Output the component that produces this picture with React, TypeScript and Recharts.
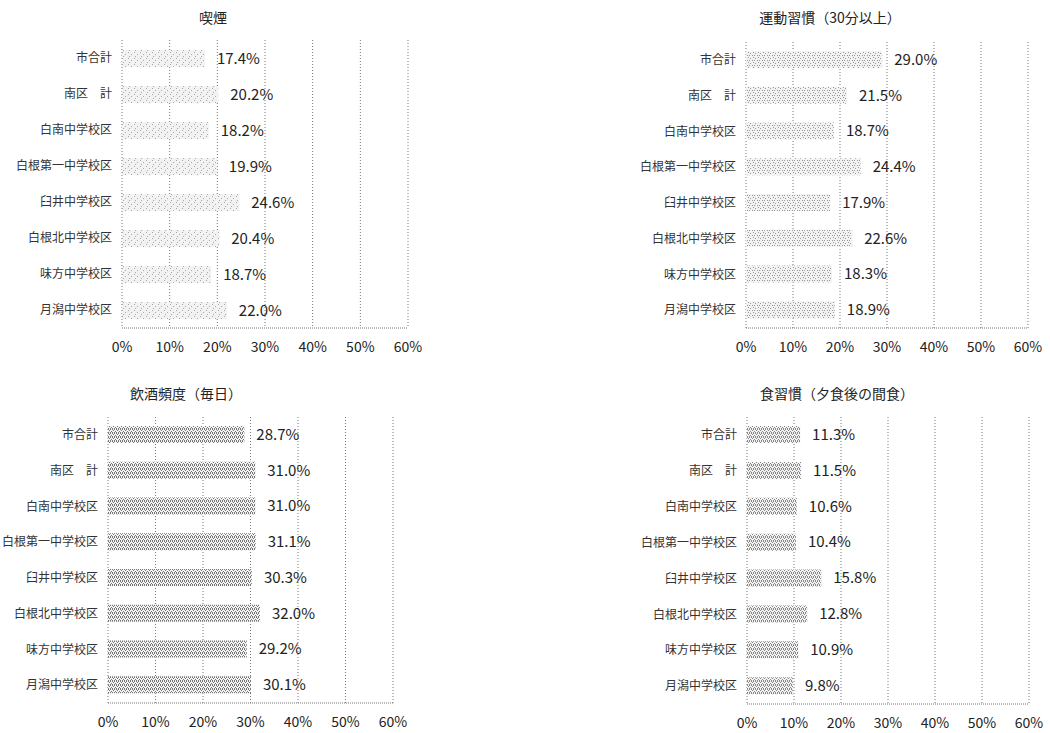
import { Bar, BarChart, CartesianGrid, LabelList, XAxis, YAxis } from "recharts";

const areas = [
  "市合計",
  "南区　計",
  "白南中学校区",
  "白根第一中学校区",
  "臼井中学校区",
  "白根北中学校区",
  "味方中学校区",
  "月潟中学校区",
];

const smoking = [17.4, 20.2, 18.2, 19.9, 24.6, 20.4, 18.7, 22.0];
const exercise = [29.0, 21.5, 18.7, 24.4, 17.9, 22.6, 18.3, 18.9];
const drinking = [28.7, 31.0, 31.0, 31.1, 30.3, 32.0, 29.2, 30.1];
const lateSnack = [11.3, 11.5, 10.6, 10.4, 15.8, 12.8, 10.9, 9.8];

const xTicks = [0, 10, 20, 30, 40, 50, 60];

const FONT = '"Noto Sans CJK JP", "Noto Sans", sans-serif';
const AXIS_W = 108;

type PanelProps = {
  id: string;
  title: string;
  values: number[];
  left: number; // x of 0%
  right: number; // x of 60%
  top: number;
  bottom: number;
  titleX: number;
  titleY: number;
  dots: [number, number][];
  cell: number;
  dotColor: string;
};

function Panel(p: PanelProps) {
  const data = areas.map((name, i) => ({ name, v: p.values[i] }));
  const plotW = p.right - p.left;
  const plotH = p.bottom - p.top;
  const mRight = 24;
  const xAxisH = 32;

  return (
    <>
      <div
        style={{
          position: "absolute",
          left: p.titleX,
          top: p.titleY,
          transform: "translate(-50%, -50%)",
          fontFamily: FONT,
          fontSize: 14,
          color: "#222",
          whiteSpace: "nowrap",
          lineHeight: 1,
        }}
      >
        {p.title}
      </div>
      <div style={{ position: "absolute", left: p.left - AXIS_W, top: p.top }}>
        <BarChart
          width={AXIS_W + plotW + mRight}
          height={plotH + xAxisH}
          data={data}
          layout="vertical"
          margin={{ top: 0, right: mRight, bottom: 0, left: 0 }}
        >
          <defs>
            <pattern id={p.id} width={p.cell} height={p.cell} patternUnits="userSpaceOnUse">
              <rect width={p.cell} height={p.cell} fill="#f2f2f2" />
              {p.dots.map(([x, y], i) => (
                <rect key={i} x={x} y={y} width={1} height={1} fill={p.dotColor} />
              ))}
            </pattern>
          </defs>
          <CartesianGrid horizontal={false} stroke="#777" strokeDasharray="1 2" />
          <XAxis
            type="number"
            domain={[0, 60]}
            ticks={xTicks}
            interval={0}
            tickFormatter={(v) => `${v}%`}
            tickLine={false}
            axisLine={{ stroke: "#777", strokeDasharray: "1 1" }}
            tickMargin={8}
            height={xAxisH}
            tick={{ fontSize: 14, fill: "#222", fontFamily: FONT }}
          />
          <YAxis
            type="category"
            dataKey="name"
            width={AXIS_W}
            interval={0}
            tickLine={false}
            axisLine={false}
            tickMargin={4}
            tick={{ fontSize: 12, fill: "#333", fontFamily: FONT }}
          />
          <Bar dataKey="v" fill={`url(#${p.id})`} barSize={17} isAnimationActive={false}>
            <LabelList
              dataKey="v"
              position="right"
              offset={12}
              formatter={(v: any) => `${Number(v).toFixed(1)}%`}
              style={{ fontSize: 15, fill: "#222", fontFamily: FONT }}
            />
          </Bar>
        </BarChart>
      </div>
    </>
  );
}

const sparse: [number, number][] = [[0, 0], [3, 2], [1, 4]];
const light: [number, number][] = [[0, 0], [2, 1], [4, 3], [1, 3]];
const dense: [number, number][] = [[0, 0], [2, 0], [1, 1], [3, 2], [0, 3], [2, 3]];

export default function App() {
  return (
    <div
      style={{
        position: "absolute",
        left: 0,
        top: 0,
        width: 1050,
        height: 733,
        background: "#fff",
        overflow: "hidden",
      }}
    >
      <Panel
        id="patSmoke"
        title="喫煙"
        values={smoking}
        left={122}
        right={408}
        top={40}
        bottom={328}
        titleX={213}
        titleY={17}
        dots={sparse}
        cell={6}
        dotColor="#aaa"
      />
      <Panel
        id="patExercise"
        title="運動習慣（30分以上）"
        values={exercise}
        left={746}
        right={1028}
        top={42}
        bottom={328}
        titleX={830}
        titleY={17}
        dots={light}
        cell={5}
        dotColor="#999"
      />
      <Panel
        id="patDrink"
        title="飲酒頻度（毎日）"
        values={drinking}
        left={108}
        right={393}
        top={417}
        bottom={703}
        titleX={186}
        titleY={393}
        dots={dense}
        cell={4}
        dotColor="#777"
      />
      <Panel
        id="patSnack"
        title="食習慣（夕食後の間食）"
        values={lateSnack}
        left={747}
        right={1029}
        top={417}
        bottom={704}
        titleX={837}
        titleY={393}
        dots={dense}
        cell={4}
        dotColor="#888"
      />
    </div>
  );
}
